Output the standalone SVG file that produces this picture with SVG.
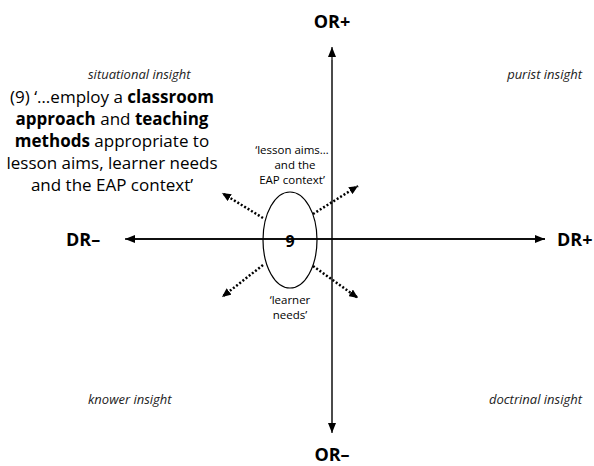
<svg xmlns="http://www.w3.org/2000/svg" width="594" height="466" viewBox="0 0 594 466">
<defs>
<marker id="ah" markerWidth="10" markerHeight="8" refX="10" refY="4" orient="auto" markerUnits="userSpaceOnUse"><path d="M0,0 L10,4 L0,8 Z" fill="#000"/></marker>
<marker id="dh" markerWidth="9" markerHeight="8" refX="9" refY="4" orient="auto" markerUnits="userSpaceOnUse"><path d="M0,0 L9,4 L0,8 Z" fill="#000"/></marker>
</defs>
<style>
text{font-family:"Open Sans","Noto Sans",sans-serif;fill:#000}
.ax{font-size:18px;font-weight:bold}
.q{font-size:13px;font-style:italic;fill:#222}
.big{font-size:17px;text-anchor:middle}
.sm{font-size:11.5px;text-anchor:middle}
.axis{stroke:#000;stroke-width:1.3;fill:none}
.dot{stroke:#000;stroke-width:2.5;stroke-dasharray:2 2;fill:none}
</style>
<rect width="594" height="466" fill="#fff"/>
<g id="connectors">
<line class="axis" x1="332" y1="430" x2="332" y2="47" marker-end="url(#ah)" style="stroke:#444;stroke-width:1.6"/>
<line class="axis" x1="332" y1="60" x2="332" y2="433" marker-end="url(#ah)" style="stroke:#444;stroke-width:1.6"/>
<line class="axis" x1="545" y1="239" x2="125" y2="239" marker-end="url(#ah)"/>
<line class="axis" x1="130" y1="239" x2="545" y2="239" marker-end="url(#ah)"/>
<line class="dot" x1="263" y1="218" x2="222" y2="193" marker-end="url(#dh)"/>
<line class="dot" x1="313" y1="214" x2="358" y2="186" marker-end="url(#dh)"/>
<line class="dot" x1="263" y1="265" x2="222" y2="297" marker-end="url(#dh)"/>
<line class="dot" x1="313" y1="266" x2="358" y2="298" marker-end="url(#dh)"/>
</g>
<g id="axis-labels">
<text class="ax" x="332" y="28" text-anchor="middle">OR+</text>
<text class="ax" x="332" y="461" text-anchor="middle">OR–</text>
<text class="ax" x="66" y="246">DR–</text>
<text class="ax" x="557" y="246">DR+</text>
</g>
<g id="quadrants">
<text class="q" x="88" y="79">situational insight</text>
<text class="q" x="582" y="79" text-anchor="end">purist insight</text>
<text class="q" x="88" y="404">knower insight</text>
<text class="q" x="582" y="404" text-anchor="end">doctrinal insight</text>
</g>
<g id="node9">
<ellipse cx="290" cy="240" rx="27" ry="48" fill="none" stroke="#000" stroke-width="1.2"/>
<text x="290" y="247" text-anchor="middle" style="font-size:16px;font-weight:bold">9</text>
</g>
<g id="quote">
<text class="big" x="112" y="103">(9) ‘…employ a <tspan font-weight="bold">classroom</tspan></text>
<text class="big" x="112" y="125"><tspan font-weight="bold">approach</tspan> and <tspan font-weight="bold">teaching</tspan></text>
<text class="big" x="112" y="147"><tspan font-weight="bold">methods</tspan> appropriate to</text>
<text class="big" x="112" y="169">lesson aims, learner needs</text>
<text class="big" x="112" y="191">and the EAP context’</text>
</g>
<g id="label-top">
<text class="sm" x="292" y="154">‘lesson aims…</text>
<text class="sm" x="295" y="169">and the</text>
<text class="sm" x="292" y="184">EAP context’</text>
</g>
<g id="label-bottom">
<text class="sm" x="290" y="304">‘learner</text>
<text class="sm" x="290" y="319">needs’</text>
</g>
</svg>
